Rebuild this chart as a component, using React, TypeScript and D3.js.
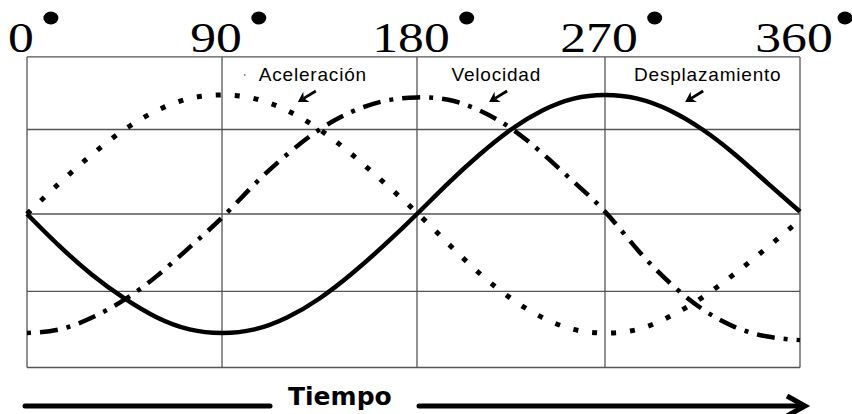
import React from 'react';
import * as d3 from 'd3';

// ---- data ----
const angles = [0, 15, 30, 45, 60, 75, 90, 105, 120, 135, 150, 165, 180, 195, 210, 225, 240, 255, 270, 285, 300, 315, 330, 345, 360];
const displacement = [0, -0.27, -0.51, -0.71, -0.87, -0.97, -1.0, -0.97, -0.87, -0.71, -0.5, -0.26, 0, 0.26, 0.5, 0.71, 0.87, 0.97, 1.0, 0.97, 0.87, 0.71, 0.5, 0.26, 0.02];
const velocity = [-1.0, -0.97, -0.87, -0.72, -0.52, -0.28, -0.03, 0.25, 0.5, 0.71, 0.86, 0.95, 0.98, 0.96, 0.87, 0.72, 0.51, 0.27, 0.02, -0.3, -0.58, -0.8, -0.95, -1.03, -1.06];
const acceleration = [0, 0.26, 0.5, 0.71, 0.87, 0.97, 1.0, 0.97, 0.87, 0.71, 0.5, 0.26, 0.01, -0.25, -0.5, -0.71, -0.87, -0.97, -1.0, -0.97, -0.86, -0.7, -0.5, -0.28, -0.05];
const angleTicks = [0, 90, 180, 270, 360];
const tickLabels = ['0', '90', '180', '270', '360'];
const levelGrid = [1.32, 0.71, 0, -0.65, -1.29];
const seriesNames = ['Aceleración', 'Velocidad', 'Desplazamiento'];
const axisTitle = 'Tiempo';

// ---- layout ----
const W = 852;
const H = 414;
const x = d3.scaleLinear().domain([0, 90, 180, 270, 360]).range([27, 222, 417, 605, 800]);
const y = d3.scaleLinear().domain([-1, 1]).range([333, 95]);
const labelLayout = [
  { textAt: 107, arrowAt: 125 },
  { textAt: 196.5, arrowAt: 214.5 },
  { textAt: 283.4, arrowAt: 307 },
];

const lineGen = d3
  .line<number>()
  .x((_, i) => x(angles[i]))
  .y((d) => y(d))
  .curve(d3.curveNatural);

function Arrow({ hx, hy }: { hx: number; hy: number }) {
  const tx = hx + 18;
  const ty = hy - 11;
  const ang = Math.atan2(hy - ty, hx - tx);
  const len = 10;
  const wid = 6;
  const bx = hx - Math.cos(ang) * len;
  const by = hy - Math.sin(ang) * len;
  const px = -Math.sin(ang) * wid;
  const py = Math.cos(ang) * wid;
  return (
    <g>
      <line x1={tx} y1={ty} x2={bx + Math.cos(ang) * 3} y2={by + Math.sin(ang) * 3} stroke="#000" strokeWidth={2.8} />
      <polygon
        points={`${hx},${hy} ${bx + px},${by + py} ${bx + Math.cos(ang) * 3},${by + Math.sin(ang) * 3} ${bx - px},${by - py}`}
        fill="#000"
      />
    </g>
  );
}

export default function App() {
  const top = y(levelGrid[0]);
  const bottom = y(levelGrid[levelGrid.length - 1]);
  const left = x(0);
  const right = x(360);
  const fs = 43;
  const sx = 1.2;
  return (
    <svg width={W} height={H} style={{ position: 'absolute', left: 0, top: 0, background: '#fff' }}>
      <rect x={0} y={0} width={W} height={H} fill="#fff" />
      {/* grid */}
      {levelGrid.map((v, i) => (
        <line key={'h' + i} x1={left} x2={right} y1={y(v)} y2={y(v)} stroke="#555" strokeWidth={1.3} />
      ))}
      {angleTicks.map((a, i) => (
        <line key={'v' + i} x1={x(a)} x2={x(a)} y1={top} y2={bottom} stroke="#555" strokeWidth={1.3} />
      ))}
      {/* curves */}
      <path d={lineGen(acceleration) || ''} fill="none" stroke="#000" strokeWidth={5} strokeDasharray="5 14" />
      <path d={lineGen(velocity) || ''} fill="none" stroke="#000" strokeWidth={4.5} strokeDasharray="4 9 18 9" />
      <path d={lineGen(displacement) || ''} fill="none" stroke="#000" strokeWidth={4.5} />
      {/* top degree labels */}
      {angleTicks.map((a, i) => {
        const cx = x(a) - 6;
        const half = (tickLabels[i].length * 0.5 * fs * sx) / 2;
        return (
          <g key={'t' + i}>
            <text
              transform={`translate(${cx},52) scale(${sx},1)`}
              textAnchor="middle"
              fontFamily="'Liberation Serif', 'Times New Roman', serif"
              fontSize={fs}
              fill="#000"
            >
              {tickLabels[i]}
            </text>
            <ellipse cx={Math.min(cx + half + 17, 845)} cy={18} rx={7.5} ry={6.5} fill="#000" />
          </g>
        );
      })}
      {/* series labels with arrows */}
      <circle cx={x(100.5)} cy={75} r={1} fill="#888" />
      {seriesNames.map((name, i) => (
        <g key={'l' + i}>
          <text
            x={x(labelLayout[i].textAt)}
            y={81}
            fontFamily="'Liberation Sans', Arial, sans-serif"
            fontSize={19}
            letterSpacing={0.8}
            fill="#000"
          >
            {name}
          </text>
          <Arrow hx={x(labelLayout[i].arrowAt)} hy={102} />
        </g>
      ))}
      {/* bottom time arrow */}
      <line x1={25} x2={270} y1={406} y2={406} stroke="#000" strokeWidth={5} strokeLinecap="round" />
      <text
        x={288}
        y={405}
        fontFamily="'DejaVu Sans', sans-serif"
        fontWeight="bold"
        fontSize={25}
        fill="#000"
      >
        {axisTitle}
      </text>
      <line x1={419} x2={803} y1={406} y2={406} stroke="#000" strokeWidth={5} strokeLinecap="round" />
      <polyline points="787,396 805,406 787,416" fill="none" stroke="#000" strokeWidth={5} strokeLinejoin="miter" />
    </svg>
  );
}
